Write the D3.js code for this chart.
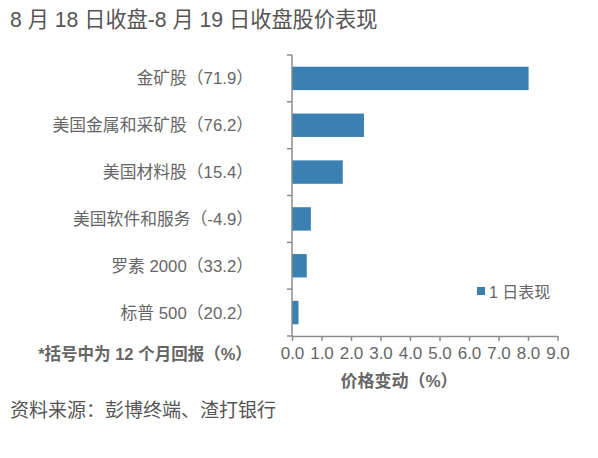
<!DOCTYPE html>
<html><head><meta charset="utf-8">
<script src="https://cdn.jsdelivr.net/npm/d3@7"></script>
<style>
body{margin:0;background:#fff;}
svg{display:block;font-family:"Liberation Sans","Noto Sans CJK SC",sans-serif;}
</style></head>
<body><svg id="c" width="598" height="458"></svg>
<script>
const categories = ["金矿股（71.9）","美国金属和采矿股（76.2）","美国材料股（15.4）","美国软件和服务（-4.9）","罗素 2000（33.2）","标普 500（20.2）"];
const values = [8.02, 2.44, 1.72, 0.64, 0.50, 0.22];
const xTicks = [0,1,2,3,4,5,6,7,8,9];
const seriesName = "1 日表现";
const title = "8 月 18 日收盘-8 月 19 日收盘股价表现";
const xTitle = "价格变动（%）";
const note = "*括号中为 12 个月回报（%）";
const source = "资料来源：彭博终端、渣打银行";

const svg = d3.select("#c");
const pL = 292, pR = 557.5, pT = 55, pB = 336;
const x = d3.scaleLinear().domain([0,9]).range([pL,pR]);
const y = d3.scaleBand().domain(categories).range([pT,pB]).paddingInner(0.5).paddingOuter(0.25);
const axisCol = "#8c8c8c", textCol = "#666";

svg.append("text").attr("x",10).attr("y",27).attr("font-size",21.2).attr("fill","#555").text(title);

svg.selectAll("rect.bar").data(values).enter().append("rect")
  .attr("x",x(0)).attr("y",(d,i)=>y(categories[i]))
  .attr("width",d=>x(d)-x(0)).attr("height",y.bandwidth())
  .attr("fill","#3a80b0");

// y axis
const bounds = d3.range(categories.length+1).map(i=>pT + i*(pB-pT)/categories.length);
svg.append("line").attr("x1",pL).attr("x2",pL).attr("y1",pT).attr("y2",pB).attr("stroke",axisCol).attr("stroke-width",1.5);
svg.selectAll("line.yt").data(bounds).enter().append("line")
  .attr("x1",pL-5).attr("x2",pL).attr("y1",d=>d).attr("y2",d=>d).attr("stroke",axisCol).attr("stroke-width",1.5);
svg.selectAll("text.yl").data(categories).enter().append("text")
  .attr("x",253).attr("y",d=>y(d)+y.bandwidth()/2+6).attr("text-anchor","end")
  .attr("font-size",16.8).attr("fill",textCol).text(d=>d);

// x axis
const xa = svg.append("g").attr("transform",`translate(0,${pB})`)
  .call(d3.axisBottom(x).tickValues(xTicks).tickSize(5).tickSizeOuter(0).tickPadding(6).tickFormat(d3.format(".1f")));
xa.select(".domain").attr("stroke",axisCol).attr("stroke-width",1.5);
xa.selectAll(".tick line").attr("stroke",axisCol).attr("stroke-width",1.5);
xa.selectAll(".tick text").attr("font-size",17).attr("fill",textCol).attr("font-family","Liberation Sans");

svg.append("text").attr("x",399).attr("y",387).attr("text-anchor","middle")
  .attr("font-size",17).attr("font-weight","bold").attr("fill",textCol).text(xTitle);
svg.append("text").attr("x",145).attr("y",360).attr("text-anchor","middle")
  .attr("font-size",16.5).attr("font-weight","bold").attr("fill",textCol).text(note);
svg.append("text").attr("x",10).attr("y",417).attr("font-size",19).attr("fill","#555").text(source);

// legend
svg.append("rect").attr("x",477).attr("y",287).attr("width",8).attr("height",8).attr("fill","#3a80b0");
svg.append("text").attr("x",489).attr("y",298).attr("font-size",16).attr("fill",textCol).text(seriesName);
</script></body></html>
